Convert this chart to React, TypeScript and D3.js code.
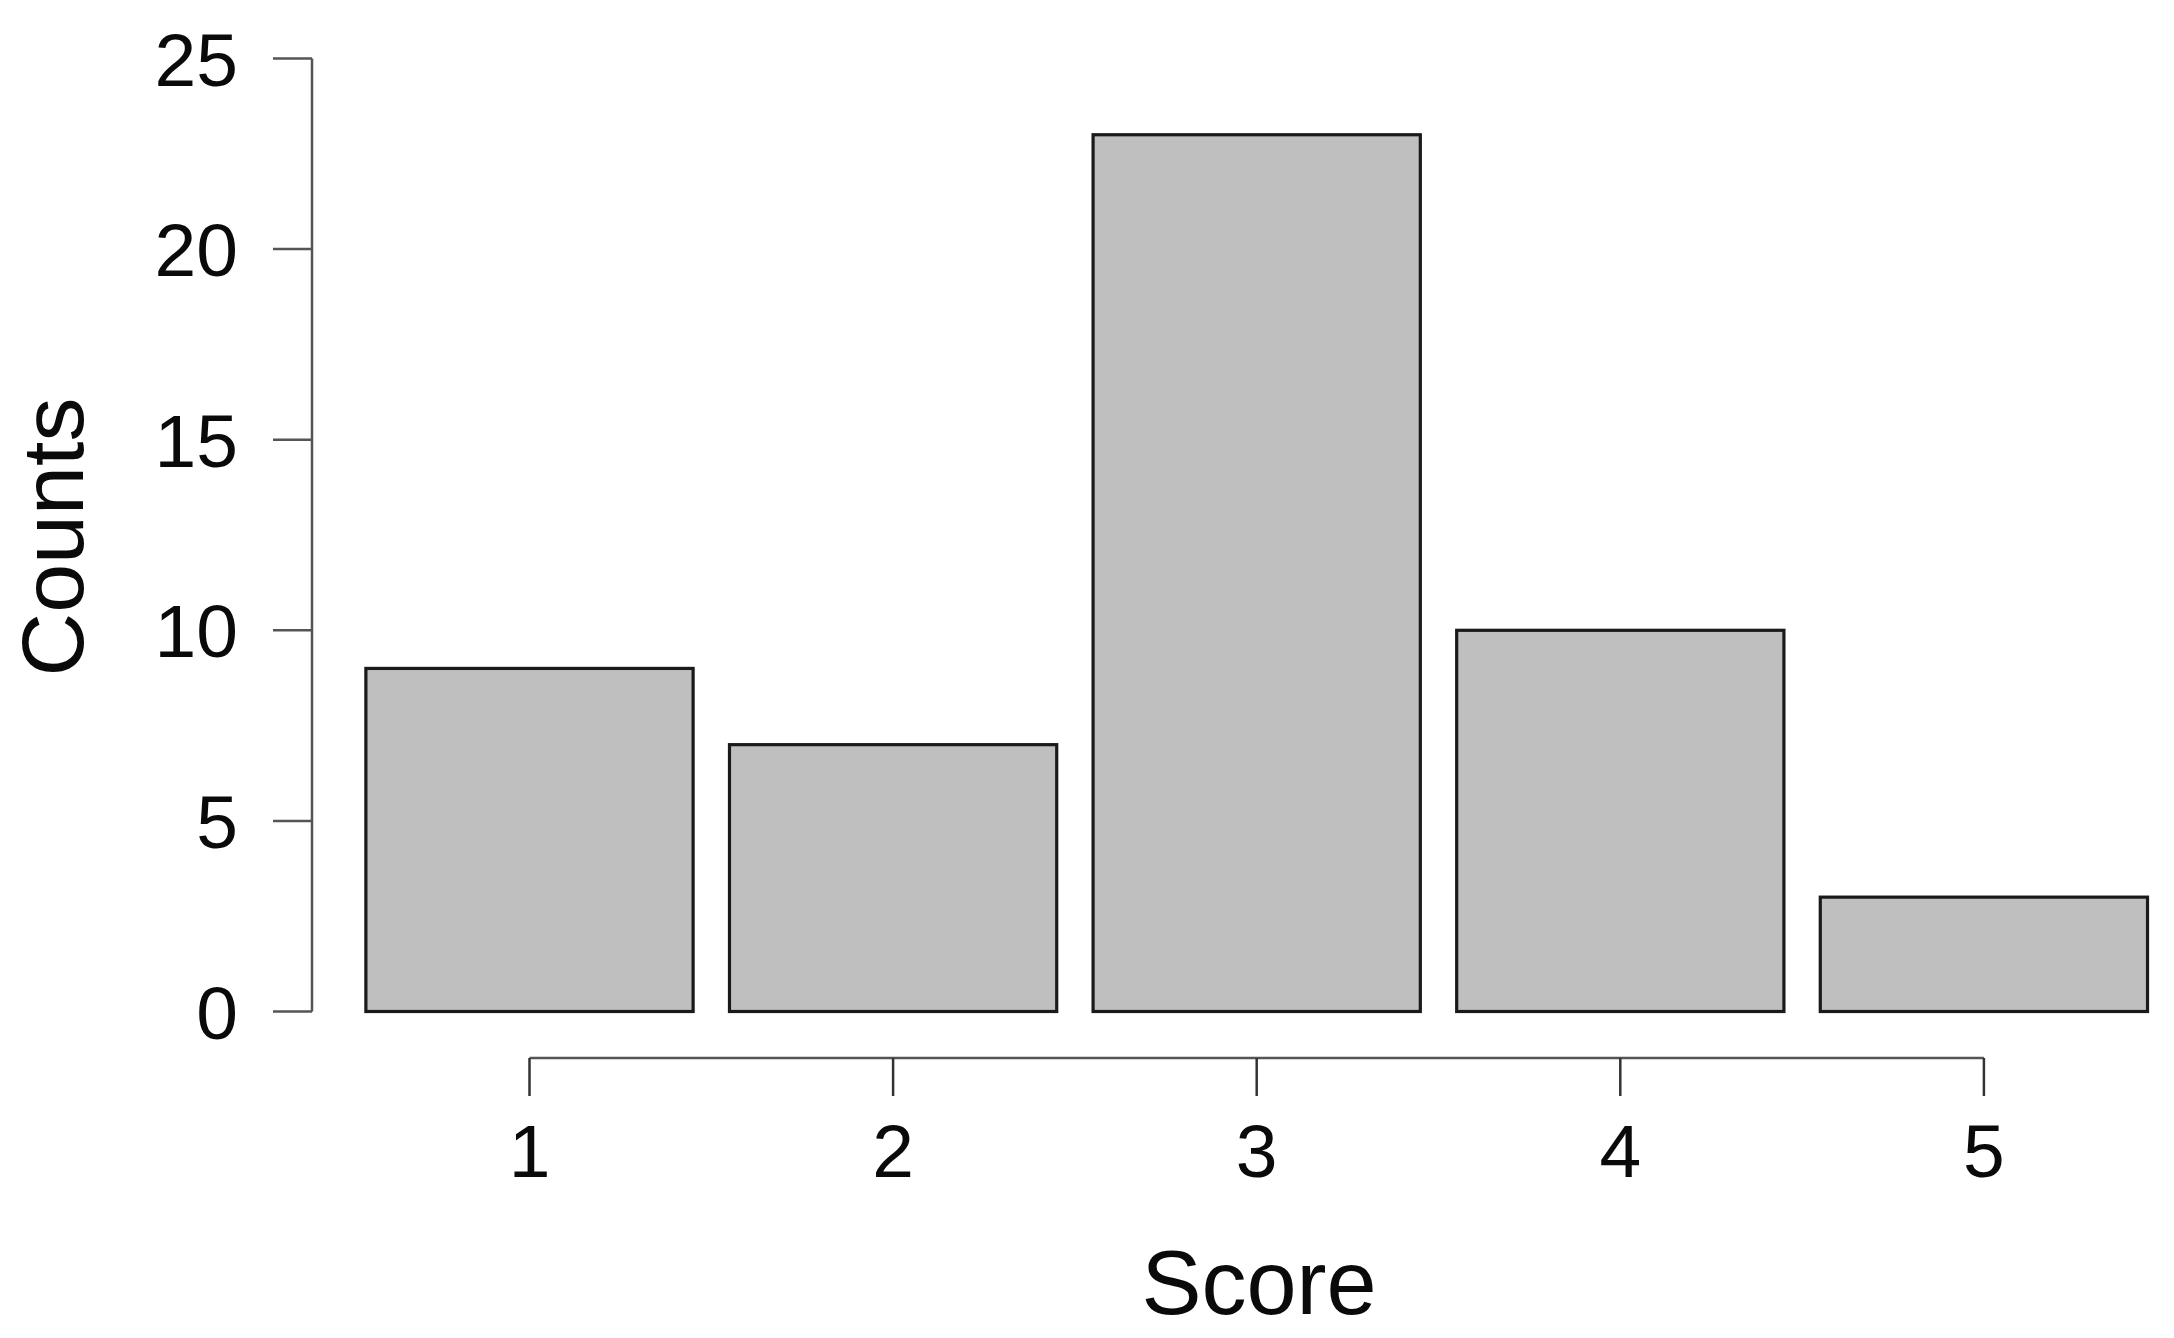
import React from "react";
import * as d3 from "d3";

const categories = ["1", "2", "3", "4", "5"];
const counts = [9, 7, 23, 10, 3];
const yTicks = [0, 5, 10, 15, 20, 25];
const xLabel = "Score";
const yLabel = "Counts";

const W = 2174;
const H = 1338;
const FONT = "'Liberation Sans', Arial, Helvetica, sans-serif";

export default function App() {
  const step = 363.6;
  const x = d3
    .scaleLinear()
    .domain([1, 5])
    .range([529.5, 529.5 + 4 * step]);
  const y = d3.scaleLinear().domain([0, 25]).range([1011.5, 58.5]);
  const barW = step * 0.9;
  const axisX = 312;
  const axisY = 1058;

  return (
    <svg
      width={W}
      height={H}
      style={{ position: "fixed", left: 0, top: 0, background: "#fff" }}
      fontFamily={FONT}
    >
      <rect x={0} y={0} width={W} height={H} fill="#fff" />
      {counts.map((c, i) => (
        <rect
          key={i}
          x={x(i + 1) - barW / 2}
          y={y(c)}
          width={barW}
          height={y(0) - y(c)}
          fill="#bfbfbf"
          stroke="#1a1a1a"
          strokeWidth={3.2}
        />
      ))}
      <line x1={axisX} x2={axisX} y1={y(0)} y2={y(25)} stroke="#555" strokeWidth={2.5} />
      {yTicks.map((t) => (
        <g key={t}>
          <line x1={axisX - 39} x2={axisX} y1={y(t)} y2={y(t)} stroke="#555" strokeWidth={2.5} />
          <text x={238} y={y(t)} dy="0.36em" textAnchor="end" fontSize={75} fill="#0a0a0a">
            {t}
          </text>
        </g>
      ))}
      <line x1={x(1)} x2={x(5)} y1={axisY} y2={axisY} stroke="#555" strokeWidth={2.5} />
      {categories.map((c, i) => (
        <g key={c}>
          <line x1={x(i + 1)} x2={x(i + 1)} y1={axisY} y2={axisY + 38} stroke="#333" strokeWidth={2.5} />
          <text x={x(i + 1)} y={1177} textAnchor="middle" fontSize={75} fill="#0a0a0a">
            {c}
          </text>
        </g>
      ))}
      <text x={1259} y={1314} textAnchor="middle" fontSize={90} fill="#0a0a0a">
        {xLabel}
      </text>
      <text
        transform={`translate(83, 537) rotate(-90)`}
        textAnchor="middle"
        fontSize={88}
        fill="#0a0a0a"
      >
        {yLabel}
      </text>
    </svg>
  );
}
